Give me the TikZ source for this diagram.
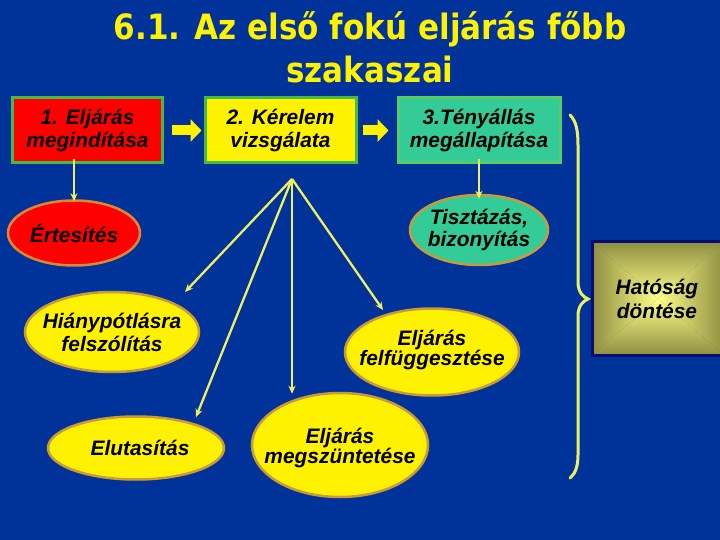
\documentclass[tikz,border=0pt]{standalone}
\usepackage{fontspec}
\setmainfont{Liberation Sans}
\newfontfamily\titlefont[FakeStretch=0.89]{DejaVu Sans}
\usetikzlibrary{arrows.meta,shapes.geometric}
\definecolor{bg}{HTML}{003399}
\definecolor{boxgreen}{HTML}{44BB44}
\definecolor{teal3}{HTML}{33CC99}
\definecolor{teal3border}{HTML}{55CC66}
\definecolor{ellborder}{HTML}{C89A3A}
\definecolor{redborder}{HTML}{D98A30}
\definecolor{lineyel}{HTML}{EEF060}
\definecolor{olivedark}{HTML}{8E8E40}
\definecolor{olivelight}{HTML}{FFFF8A}
\definecolor{navyb}{HTML}{0A0A70}
\tikzset{
  nodetext/.style={font=\fontsize{21}{23}\selectfont\bfseries\itshape, text=black, align=center, inner sep=0pt},
  tighttext/.style={nodetext, font=\fontsize{21}{19}\selectfont\bfseries\itshape},
  stagebox/.style={nodetext, rectangle, draw=boxgreen, line width=3bp},
  ell/.style={ellipse, draw=ellborder, line width=2.5bp, fill=yellow, inner sep=0pt},
  blockarrow/.style={yellow, line width=10bp, -{Triangle[length=11bp,width=22bp]}},
  thinarrow/.style={lineyel, line width=2.3bp, -{Stealth[length=8bp,width=7bp]}},
  bracestyle/.style={lineyel, line width=3bp, line cap=round}
}
\begin{document}
\begin{tikzpicture}[x=1bp,y=-1bp]
\fill[bg] (0,0) rectangle (720,540);
\useasboundingbox (0,0) rectangle (720,540);

% title
\node[font=\titlefont\bfseries\fontsize{35}{44}\selectfont, text=yellow, anchor=base, inner sep=0pt] (title1) at (370,40) {6.1. Az első fokú eljárás főbb};
\node[font=\titlefont\bfseries\fontsize{35}{44}\selectfont, text=yellow, anchor=base, inner sep=0pt] (title2) at (370,83) {szakaszai};

% stage boxes
\node[stagebox, fill=red, minimum width=149bp, minimum height=65bp] (b1) at (87.5,130.5) {1. Eljárás\\megindítása};
\node[stagebox, fill=yellow, minimum width=151bp, minimum height=65bp] (b2) at (280.5,130.5) {2. Kérelem\\vizsgálata};
\node[stagebox, fill=teal3, draw=teal3border, minimum width=162bp, minimum height=65bp] (b3) at (479,130.5) {3.Tényállás\\megállapítása};

\draw[blockarrow] ([xshift=8bp]b1.east) -- ([xshift=-2bp]b2.west);
\draw[blockarrow] ([xshift=5bp]b2.east) -- ([xshift=-8bp]b3.west);

% ellipses
\node[ell, fill=red, draw=redborder, minimum width=132bp, minimum height=65bp,
  label={[nodetext]center:Értesítés}] (ert) at (74,233) {};
\node[ell, fill=teal3, minimum width=138bp, minimum height=70bp,
  label={[nodetext]center:{Tisztázás,\\bizonyítás}}] (tisz) at (479,230) {};
\node[ell, minimum width=174bp, minimum height=80bp,
  label={[nodetext]center:{Hiánypótlásra\\felszólítás}}] (hiany) at (112,332) {};
\node[ell, minimum width=176bp, minimum height=63bp,
  label={[nodetext, xshift=4bp]center:Elutasítás}] (elut) at (136,448) {};
\node[ell, minimum width=176bp, minimum height=104bp,
  label={[tighttext, yshift=-3bp]center:{Eljárás\\megszüntetése}}] (megsz) at (340,445) {};
\node[ell, minimum width=174bp, minimum height=87bp,
  label={[tighttext, yshift=2bp]center:{Eljárás\\felfüggesztése}}] (felf) at (432,352) {};

% vertical arrows
\draw[thinarrow] ([yshift=5bp]b1.south -| ert.north) -- ([yshift=-2bp]ert.north);
\draw[thinarrow] ([yshift=5bp]b3.south) -- ([yshift=-5bp]tisz.north);

% fan from apex
\coordinate (apex) at (292,179);
\draw[thinarrow] (apex) -- (185,292);
\draw[thinarrow] (apex) -- (196,417);
\draw[thinarrow] (apex) -- ([yshift=-2bp]megsz.north -| apex);
\draw[thinarrow] (apex) -- (383,310);

% brace
\coordinate (brtop) at (570,115);
\coordinate (brtip) at (588,299);
\coordinate (brbot) at (570,478);
\draw[bracestyle] (brtop) .. controls (576,121) and (578,130) .. (578,145)
  -- (578,282) .. controls (578,292) and (583,297) .. (brtip)
  .. controls (583,301) and (578,306) .. (578,316)
  -- (578,455) .. controls (578,467) and (575,474) .. (brbot);

% decision box
\node[draw=navyb, line width=3bp, minimum width=132bp, minimum height=113bp, inner sep=0pt,
  path picture={
    \coordinate (pnw) at (path picture bounding box.north west);
    \coordinate (pne) at (path picture bounding box.north east);
    \coordinate (psw) at (path picture bounding box.south west);
    \coordinate (pse) at (path picture bounding box.south east);
    \coordinate (pc) at (path picture bounding box.center);
    \begin{scope}
      \clip (pnw) -- (pne) -- (pc) -- cycle;
      \shade[top color=olivedark, bottom color=olivelight] (pnw) rectangle (pc -| pne);
    \end{scope}
    \begin{scope}
      \clip (psw) -- (pse) -- (pc) -- cycle;
      \shade[bottom color=olivedark, top color=olivelight] (psw) rectangle (pc -| pse);
    \end{scope}
    \begin{scope}
      \clip (pnw) -- (psw) -- (pc) -- cycle;
      \shade[left color=olivedark, right color=olivelight] (pnw) rectangle (pc |- psw);
    \end{scope}
    \begin{scope}
      \clip (pne) -- (pse) -- (pc) -- cycle;
      \shade[right color=olivedark, left color=olivelight] (pne) rectangle (pc |- pse);
    \end{scope}
  }] (hat) at (658,298.5) {};
\node[nodetext, font=\fontsize{21}{24}\selectfont\bfseries\itshape, text=black] (hattext) at (657,299) {Hatóság\\döntése};
\end{tikzpicture}
\end{document}
